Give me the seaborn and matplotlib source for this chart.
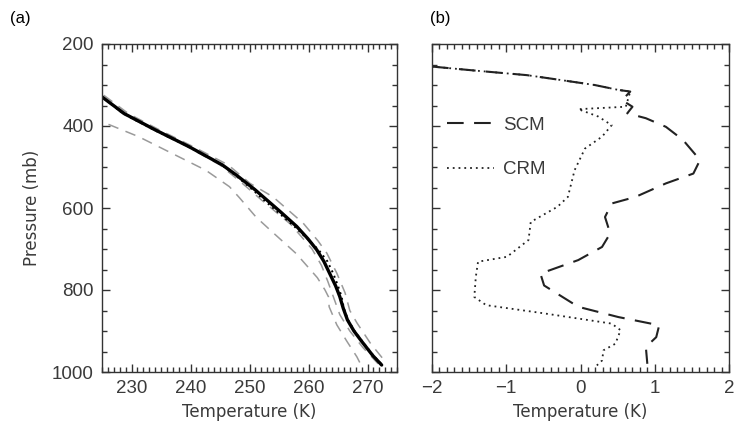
import numpy as np
import pandas as pd
import matplotlib
matplotlib.use("Agg")
import matplotlib.pyplot as plt
from matplotlib.ticker import MultipleLocator, FixedLocator
import seaborn as sns

# ---------------- data ----------------
# panel (a): temperature profiles (K) vs pressure (mb)
mean_p = [329, 370, 410, 450, 495, 520, 555, 580, 610, 645, 675, 702, 730, 760,
          790, 816, 845, 873, 900, 925, 960, 983]
mean_T = [225.0, 228.8, 234.1, 239.7, 245.4, 247.8, 250.9, 252.9, 255.3, 258.0,
          259.9, 261.4, 262.6, 263.6, 264.6, 265.3, 265.9, 266.6, 267.7, 269.0,
          270.9, 272.4]

dot_p = [329, 370, 410, 450, 495, 520, 555, 580, 610, 645, 675, 702, 730, 760,
         790, 816, 845, 873, 900, 925, 960, 983]
dot_T = [225.0, 228.6, 233.9, 239.6, 245.3, 247.6, 250.5, 252.4, 254.8, 257.6,
         259.8, 261.7, 263.2, 264.2, 265.0, 265.6, 266.0, 266.7, 267.8, 269.1,
         271.0, 272.5]

g1_p = [396, 426, 467, 508, 548, 575, 622, 655, 711, 770, 800, 817, 841, 885,
        925, 963, 980]
g1_T = [226.1, 231.2, 236.9, 242.6, 246.6, 248.3, 251.1, 253.6, 257.9, 261.5,
        262.8, 263.4, 263.5, 264.8, 266.5, 268.2, 268.8]

g2_p = [325, 370, 410, 450, 495, 540, 573, 637, 680, 710, 759, 807, 850, 880,
        930, 978]
g2_T = [225.3, 229.5, 234.8, 240.4, 246.4, 250.1, 254.0, 259.1, 261.6, 263.1,
        264.8, 266.2, 267.0, 268.2, 270.5, 273.2]

g3_p = [330, 370, 410, 450, 495, 540, 580, 640, 700, 740, 780, 820, 860, 900,
        940, 980]
g3_T = [225.0, 228.5, 233.8, 239.4, 245.0, 248.8, 252.0, 257.0, 260.6, 262.2,
        263.3, 264.3, 265.3, 267.0, 269.2, 271.8]

# panel (b): temperature differences (K) vs pressure (mb)
scm_p = [255, 265, 276, 288, 300, 312, 316, 337, 353, 369, 381, 402, 434, 483,
         516, 540, 573, 589, 622, 662, 695, 727, 760, 789, 841, 866, 886, 915,
         939, 980]
scm_T = [-2.0, -1.41, -0.72, -0.26, 0.19, 0.51, 0.67, 0.56, 0.70, 0.63, 0.88,
         1.15, 1.38, 1.61, 1.52, 1.15, 0.74, 0.42, 0.33, 0.40, 0.29, -0.03,
         -0.54, -0.49, -0.03, 0.51, 1.06, 1.02, 0.88, 0.90]

crm_p = [255, 265, 276, 288, 300, 312, 316, 353, 359, 377, 398, 426, 455, 508,
         573, 597, 634, 678, 719, 731, 768, 817, 837, 857, 882, 898, 931, 947,
         972, 984]
crm_T = [-2.0, -1.41, -0.72, -0.26, 0.19, 0.51, 0.67, 0.61, -0.03, 0.24, 0.42,
         0.29, 0.06, -0.08, -0.17, -0.31, -0.67, -0.70, -0.99, -1.38, -1.41,
         -1.43, -1.27, -0.49, 0.42, 0.54, 0.47, 0.31, 0.29, 0.22]

b_ticks = [-2, -1, 0, 1, 2]
b_ticklabels = ["\u22122", "\u22121", "0", "1", "2"]

# ---------------- style ----------------
sns.set_style("ticks")
plt.rcParams['font.family'] = ['Liberation Sans', 'DejaVu Sans']

W, H = 734, 438
fig = plt.figure(figsize=(W / 100, H / 100), dpi=100)

def px_axes(x0, x1, y0, y1):
    return fig.add_axes([x0 / W, 1 - y1 / H, (x1 - x0) / W, (y1 - y0) / H])

axa = px_axes(102, 397, 44, 372)
axb = px_axes(432, 729, 44, 372)

tick_col = "#3a3a3a"
spine_col = "#333333"

def lp(ax, x, y, **kw):
    sns.lineplot(x=x, y=y, sort=False, estimator=None, ax=ax, **kw)

# panel (a)
gray = "#9a9a9a"
for xs, ys in [(g1_T, g1_p), (g2_T, g2_p), (g3_T, g3_p)]:
    lp(axa, xs, ys, color=gray, lw=1.1, dashes=(7, 5))
lp(axa, mean_T, mean_p, color="black", lw=2.4)
lp(axa, dot_T, dot_p, color="black", lw=1.4, linestyle=(0, (1, 2)))

# panel (b)
lp(axb, scm_T, scm_p, color="#222222", lw=1.5, dashes=(8, 5), label="SCM")
lp(axb, crm_T, crm_p, color="#222222", lw=1.3, linestyle=(0, (1, 2.2)), label="CRM")

axa.set_xlim(225, 275)
axa.xaxis.set_major_locator(MultipleLocator(10))
axa.xaxis.set_minor_locator(MultipleLocator(1))
axa.set_ylabel("Pressure (mb)", family="DejaVu Sans", fontsize=12,
               color=tick_col, labelpad=8)

axb.set_xlim(-2, 2)
axb.xaxis.set_major_locator(FixedLocator(b_ticks))
axb.set_xticklabels(b_ticklabels)
axb.xaxis.set_minor_locator(MultipleLocator(0.1))
axb.set_ylabel("")

for ax in (axa, axb):
    ax.set_ylim(1000, 200)
    ax.yaxis.set_major_locator(MultipleLocator(200))
    ax.yaxis.set_minor_locator(MultipleLocator(50))
    for axis in ("x", "y"):
        ax.tick_params(axis=axis, which="both", direction="in",
                       colors=spine_col, labelsize=13.5, width=1.0)
        ax.tick_params(axis=axis, which="major", length=6, pad=6)
        ax.tick_params(axis=axis, which="minor", length=3.5)
    ax.tick_params(axis="x", which="both", top=True, bottom=True)
    ax.tick_params(axis="y", which="both", left=True, right=True)
    ax.tick_params(axis="both", which="both", labelcolor=tick_col)
    for s in ax.spines.values():
        s.set_color(spine_col)
        s.set_linewidth(1.0)
    ax.set_xlabel("Temperature (K)", family="DejaVu Sans", fontsize=12,
                  color=tick_col, labelpad=4)

axb.tick_params(axis="y", which="both", labelleft=False)

leg = axb.legend(loc="upper left", bbox_to_anchor=(-0.005, 0.83), frameon=False,
                 fontsize=13.5, handlelength=2.5, handletextpad=0.45,
                 labelspacing=1.45)
for t in leg.get_texts():
    t.set_color(tick_col)

fig.text(10 / W, 1 - 18 / H, "(a)", fontsize=12, va="center", ha="left",
         color="black")
fig.text(430 / W, 1 - 18 / H, "(b)", fontsize=12, va="center", ha="left",
         color="black")

fig.savefig("out.png", dpi=100)
